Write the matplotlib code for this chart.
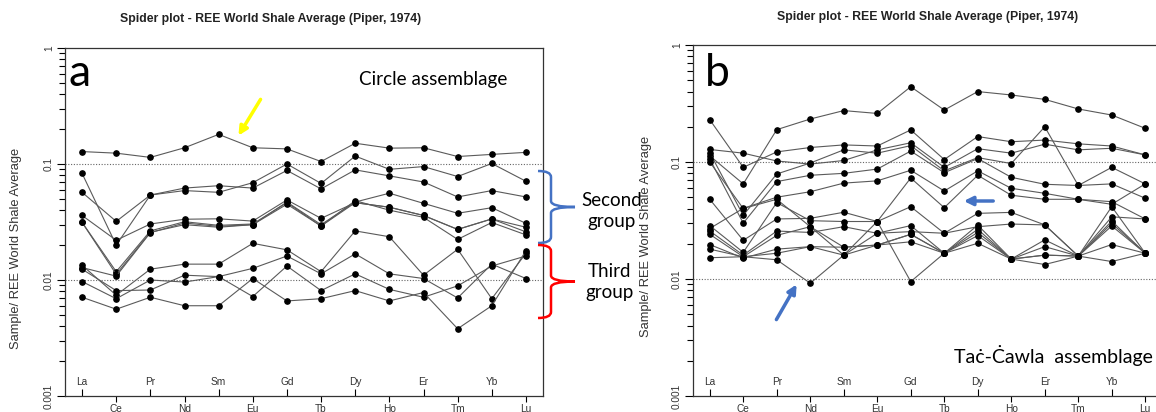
import matplotlib
matplotlib.use('Agg')
import matplotlib.pyplot as plt
from matplotlib.patches import FancyArrowPatch, PathPatch
from matplotlib.path import Path

elements = ['La', 'Ce', 'Pr', 'Nd', 'Sm', 'Eu', 'Gd', 'Tb', 'Dy', 'Ho', 'Er', 'Tm', 'Yb', 'Lu']

# Circle assemblage, sample / Piper (1974) shale average
circle_1 = [0.128, 0.124, 0.114, 0.138, 0.180, 0.138, 0.135, 0.105, 0.151, 0.137, 0.138, 0.116, 0.121, 0.126]
circle_2 = [0.083, 0.020, 0.054, 0.059, 0.057, 0.069, 0.100, 0.068, 0.117, 0.090, 0.095, 0.078, 0.101, 0.071]
circle_3 = [0.057, 0.032, 0.054, 0.062, 0.065, 0.062, 0.088, 0.061, 0.089, 0.079, 0.070, 0.052, 0.059, 0.052]
circle_4 = [0.036, 0.022, 0.0304, 0.0334, 0.0337, 0.0322, 0.049, 0.034, 0.0464, 0.0424, 0.036, 0.0273, 0.0336, 0.0285]
circle_5 = [0.0314, 0.0118, 0.0265, 0.0318, 0.0296, 0.0304, 0.0464, 0.0292, 0.0483, 0.040, 0.0347, 0.0224, 0.0313, 0.0245]
circle_6 = [0.0314, 0.0112, 0.0258, 0.030, 0.0285, 0.030, 0.045, 0.0292, 0.0464, 0.0424, 0.036, 0.0273, 0.0336, 0.026]
circle_7 = [0.0128, 0.0108, 0.0256, 0.031, 0.029, 0.030, 0.047, 0.030, 0.047, 0.056, 0.0458, 0.0376, 0.042, 0.0308]
circle_8 = [0.0134, 0.0074, 0.0124, 0.0137, 0.0137, 0.0207, 0.0182, 0.0118, 0.0265, 0.0236, 0.011, 0.0184, 0.0069, 0.0170]
circle_9 = [0.0124, 0.0081, 0.0082, 0.011, 0.0107, 0.0126, 0.0161, 0.0113, 0.0168, 0.0113, 0.0103, 0.0070, 0.0137, 0.0103]
circle_10 = [0.0097, 0.0069, 0.010, 0.0096, 0.0107, 0.0072, 0.0132, 0.0081, 0.0113, 0.0083, 0.0071, 0.0089, 0.0132, 0.0161]
circle_11 = [0.0071, 0.0056, 0.0071, 0.0060, 0.0060, 0.0103, 0.0066, 0.0069, 0.0081, 0.0066, 0.0078, 0.0038, 0.0060, 0.0179]

# Tac-Cawla assemblage
cawla_1 = [0.113, 0.065, 0.189, 0.233, 0.275, 0.26, 0.44, 0.278, 0.40, 0.374, 0.343, 0.284, 0.252, 0.194]
cawla_2 = [0.23, 0.090, 0.122, 0.133, 0.14, 0.137, 0.188, 0.105, 0.165, 0.149, 0.154, 0.143, 0.137, 0.115]
cawla_3 = [0.128, 0.119, 0.102, 0.096, 0.103, 0.127, 0.146, 0.090, 0.130, 0.119, 0.142, 0.127, 0.131, 0.115]
cawla_4 = [0.120, 0.035, 0.079, 0.098, 0.127, 0.119, 0.138, 0.084, 0.109, 0.097, 0.20, 0.063, 0.090, 0.065]
cawla_5 = [0.106, 0.030, 0.068, 0.077, 0.080, 0.087, 0.124, 0.081, 0.107, 0.074, 0.0645, 0.063, 0.065, 0.049]
cawla_6 = [0.100, 0.040, 0.048, 0.028, 0.016, 0.0246, 0.0286, 0.0166, 0.0266, 0.0148, 0.0189, 0.0157, 0.0299, 0.0166]
cawla_7 = [0.027, 0.0402, 0.050, 0.0557, 0.066, 0.069, 0.085, 0.0565, 0.084, 0.0596, 0.054, 0.048, 0.0435, 0.065]
cawla_8 = [0.0152, 0.0155, 0.0146, 0.0092, 0.016, 0.031, 0.073, 0.0407, 0.077, 0.052, 0.048, 0.048, 0.0458, 0.0326]
cawla_9 = [0.048, 0.0214, 0.0326, 0.033, 0.0372, 0.031, 0.0095, 0.0166, 0.0289, 0.0148, 0.0216, 0.0157, 0.0313, 0.0166]
cawla_10 = [0.0286, 0.0169, 0.045, 0.0315, 0.031, 0.031, 0.0415, 0.0246, 0.0364, 0.0371, 0.029, 0.0157, 0.0415, 0.0166]
cawla_11 = [0.0257, 0.016, 0.0257, 0.025, 0.028, 0.0246, 0.0254, 0.0246, 0.028, 0.0295, 0.029, 0.0157, 0.034, 0.0326]
cawla_12 = [0.0241, 0.0155, 0.0236, 0.028, 0.0187, 0.0195, 0.0241, 0.0166, 0.025, 0.0148, 0.016, 0.0157, 0.0284, 0.0166]
cawla_13 = [0.0197, 0.0151, 0.018, 0.0189, 0.0187, 0.0195, 0.0208, 0.0166, 0.0235, 0.0148, 0.0133, 0.0157, 0.0197, 0.0166]
cawla_14 = [0.018, 0.0155, 0.0166, 0.0189, 0.016, 0.0195, 0.0241, 0.0166, 0.0202, 0.0148, 0.016, 0.0157, 0.0141, 0.0166]

circle = [circle_1, circle_2, circle_3, circle_4, circle_5, circle_6, circle_7,
          circle_8, circle_9, circle_10, circle_11]
cawla = [cawla_1, cawla_2, cawla_3, cawla_4, cawla_5, cawla_6, cawla_7,
         cawla_8, cawla_9, cawla_10, cawla_11, cawla_12, cawla_13, cawla_14]

title = 'Spider plot - REE World Shale Average (Piper, 1974)'
ylab = 'Sample/ REE World Shale Average'
txt_font = ['Lato', 'DejaVu Sans']

plt.rcParams['font.family'] = ['Liberation Sans', 'DejaVu Sans']

W, H = 1156, 412
fig = plt.figure(figsize=(W / 100, H / 100), dpi=100)


def fx(x):
    return x / W


def fy(y):
    return 1 - y / H


def spider(ax, samples):
    pos = list(range(1, len(elements) + 1))
    for s in samples:
        ax.plot(pos, s, color='#5a5a5a', lw=0.8, marker='o', ms=3.8,
                mfc='black', mec='black', zorder=3)
    ax.set_yscale('log')
    ax.set_ylim(0.001, 1)
    ax.set_xlim(0.5, 14.5)
    ax.axhline(0.1, color='#666666', lw=0.8, ls=(0, (1, 1.5)), zorder=1)
    ax.axhline(0.01, color='#666666', lw=0.8, ls=(0, (1, 1.5)), zorder=1)
    # even elements below the axis, odd ones inside above it
    ax.set_xticks(pos[1::2])
    ax.set_xticklabels(elements[1::2])
    ax.set_xticks(pos[0::2], minor=True)
    ax.set_xticklabels(elements[0::2], minor=True)
    ax.tick_params(axis='x', which='major', direction='out', length=4,
                   labelsize=7.3, labelcolor='#333333', pad=1.5, width=0.8)
    ax.tick_params(axis='x', which='minor', direction='in', length=5,
                   labelsize=7.3, labelcolor='#333333', pad=-14, width=0.8)
    ax.set_yticks([0.001, 0.01, 0.1, 1])
    ax.set_yticklabels(['0.001', '0.01', '0.1', '1'], rotation=90, va='center')
    ax.tick_params(axis='y', which='major', length=6, labelsize=7.3,
                   labelcolor='#333333', width=0.8, pad=2)
    ax.tick_params(axis='y', which='minor', length=4, width=0.8)
    for sp in ax.spines.values():
        sp.set_color('#333333')
        sp.set_linewidth(0.9)


ax1 = fig.add_axes([fx(65), fy(396), fx(543 - 65), (396 - 48) / H])
spider(ax1, circle)
ax2 = fig.add_axes([fx(693), fy(396), fx(1162 - 693), (396 - 45) / H])
spider(ax2, cawla)

fig.text(fx(271), fy(19), title, ha='center', va='center', fontsize=8.8,
         fontweight='bold', color='#222222')
fig.text(fx(928), fy(17), title, ha='center', va='center', fontsize=8.8,
         fontweight='bold', color='#222222')
fig.text(fx(16), fy(248), ylab, rotation=90, ha='center', va='center',
         fontsize=9.3, color='#333333')
fig.text(fx(646), fy(236), ylab, rotation=90, ha='center', va='center',
         fontsize=9.3, color='#333333')

fig.text(fx(80), fy(74), 'a', ha='center', va='center', fontsize=32, family=txt_font)
fig.text(fx(717), fy(73), 'b', ha='center', va='center', fontsize=32, family=txt_font)
fig.text(fx(433), fy(80), 'Circle assemblage', ha='center', va='center',
         fontsize=13.6, family=txt_font)
fig.text(fx(1053), fy(356), 'Taċ-Ċawla  assemblage', ha='center', va='center',
         fontsize=14, family=txt_font)
fig.text(fx(612), fy(211), 'Second\ngroup', ha='center', va='center',
         fontsize=13.5, family=txt_font, linespacing=1.25)
fig.text(fx(610), fy(282), 'Third\ngroup', ha='center', va='center',
         fontsize=13.5, family=txt_font, linespacing=1.25)


def brace(x0, yt, yb, color):
    xb = x0 + 13
    xt = x0 + 37
    ym = (yt + yb) / 2
    r = 6
    pts = [(x0, yt), (xb, yt), (xb, yt + r), (xb, ym - r), (xb, ym), (xt, ym),
           (xb, ym), (xb, ym + r), (xb, yb - r), (xb, yb), (x0, yb)]
    codes = [Path.MOVETO, Path.CURVE3, Path.CURVE3, Path.LINETO, Path.CURVE3,
             Path.CURVE3, Path.CURVE3, Path.CURVE3, Path.LINETO, Path.CURVE3,
             Path.CURVE3]
    path = Path([(fx(x), fy(y)) for x, y in pts], codes)
    fig.add_artist(PathPatch(path, fill=False, edgecolor=color, lw=1.8,
                             transform=fig.transFigure))


brace(538, 171, 243, '#4472c4')
brace(538, 245, 318, '#ff0000')


def arrow(p0, p1, color):
    fig.add_artist(FancyArrowPatch((fx(p0[0]), fy(p0[1])), (fx(p1[0]), fy(p1[1])),
                                   transform=fig.transFigure, arrowstyle='-|>',
                                   mutation_scale=13, lw=2.5, color=color))


arrow((262, 97), (237, 138), '#ffff00')
arrow((775, 322), (798, 282), '#4472c4')
arrow((996, 201), (961, 201), '#4472c4')

fig.savefig('out.png', dpi=100)
